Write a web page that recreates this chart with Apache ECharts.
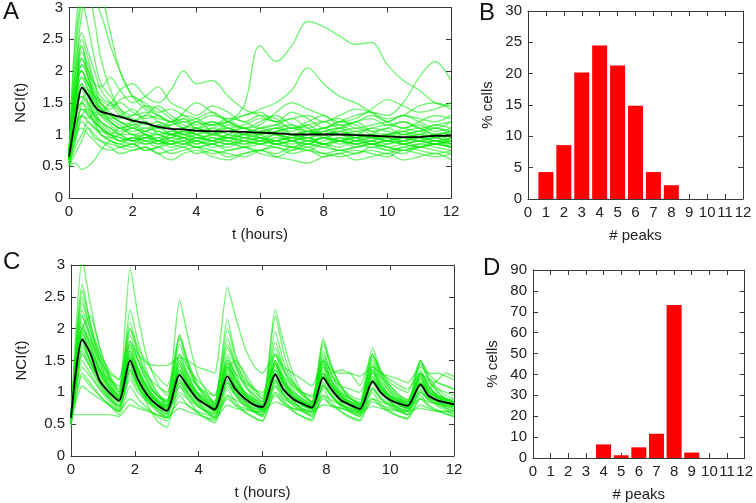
<!DOCTYPE html>
<html>
<head>
<meta charset="utf-8">
<script src="https://cdn.jsdelivr.net/npm/echarts@6/dist/echarts.min.js"></script>
<style>
  html, body { margin: 0; padding: 0; background: #fff; }
  #chart { width: 756px; height: 503px; }
</style>
</head>
<body>
<div id="chart"></div>
<script>
// ---- panel A : NCI traces, random-ish (non-periodic) stimulation ----
var timesA = [0, 0.2, 0.4, 0.6, 0.8, 1.0, 1.3, 1.6, 2.0, 2.4, 2.8, 3.2, 3.6, 4.0, 4.5, 5.0, 5.5, 6.0, 6.5, 7.0, 7.5, 8.0, 8.5, 9.0, 9.5, 10.0, 10.5, 11.0, 11.5, 12]
var meanA = [0.65, 1.25, 1.74, 1.62, 1.45, 1.36, 1.32, 1.28, 1.22, 1.18, 1.12, 1.09, 1.08, 1.06, 1.05, 1.05, 1.04, 1.03, 1.02, 1.0, 1.0, 1.0, 1.0, 0.99, 0.98, 0.97, 0.96, 0.96, 0.98, 0.98]
var tracesA = [
  [0.6, 1.6, 2.4, 1.9, 1.6, 1.5, 1.3, 1.2, 1.1, 1.2, 1.0, 0.95, 1.05, 1.0, 0.9, 1.0, 1.1, 0.95, 0.9, 1.0, 1.05, 0.95, 0.9, 1.0, 0.95, 0.9, 1.0, 0.95, 0.9, 0.95],
  [0.7, 2.2, 3.1, 3.2, 2.8, 2.2, 1.7, 1.4, 1.2, 1.1, 1.15, 1.0, 1.1, 1.2, 1.05, 0.95, 1.0, 1.1, 1.0, 0.9, 1.0, 1.05, 1.1, 0.95, 1.0, 1.1, 1.0, 1.05, 0.95, 1.0],
  [0.55, 1.0, 1.5, 1.7, 1.5, 1.4, 1.2, 1.1, 1.0, 0.9, 0.95, 0.85, 0.9, 0.8, 0.85, 0.9, 0.8, 0.85, 0.9, 0.8, 0.75, 0.85, 0.8, 0.9, 0.85, 0.8, 0.75, 0.85, 0.9, 0.8],
  [0.65, 1.8, 2.0, 1.7, 1.45, 1.3, 1.5, 1.35, 1.2, 1.3, 1.45, 1.3, 1.2, 1.25, 1.35, 1.2, 1.1, 1.2, 1.3, 1.15, 1.1, 1.2, 1.25, 1.1, 1.15, 1.2, 1.3, 1.2, 1.1, 1.2],
  [0.5, 0.55, 0.45, 0.5, 0.6, 0.75, 0.9, 0.8, 0.85, 0.75, 0.8, 0.9, 0.85, 0.8, 0.7, 0.75, 0.8, 0.7, 0.65, 0.75, 0.8, 0.7, 0.75, 0.7, 0.8, 0.75, 0.7, 0.8, 0.75, 0.7],
  [0.6, 2.6, 3.2, 3.2, 3.1, 2.9, 2.4, 2.0, 1.6, 1.4, 1.3, 1.2, 1.25, 1.1, 1.15, 1.2, 1.1, 1.0, 1.1, 1.05, 1.15, 1.0, 1.1, 1.2, 1.05, 1.0, 1.1, 1.15, 1.05, 1.1],
  [0.8, 1.4, 1.6, 1.5, 1.3, 1.1, 1.0, 0.95, 0.9, 1.0, 0.9, 0.85, 0.95, 0.9, 1.0, 0.95, 0.9, 0.85, 0.95, 0.9, 0.8, 0.9, 0.95, 0.85, 0.9, 0.95, 0.85, 0.8, 0.9, 0.85],
  [0.6, 1.2, 2.1, 2.0, 1.8, 1.75, 1.9, 1.7, 1.5, 1.6, 1.75, 1.5, 1.4, 1.3, 1.45, 1.35, 1.2, 1.3, 1.25, 1.1, 1.2, 1.3, 1.15, 1.2, 1.3, 1.2, 1.1, 1.2, 1.3, 1.25],
  [0.55, 0.9, 1.2, 1.1, 0.95, 0.9, 0.85, 0.8, 0.75, 0.8, 0.7, 0.75, 0.8, 0.7, 0.75, 0.65, 0.7, 0.75, 0.7, 0.8, 0.75, 0.7, 0.65, 0.7, 0.75, 0.7, 0.8, 0.75, 0.7, 0.75],
  [0.7, 1.7, 2.2, 1.9, 1.6, 1.4, 1.25, 1.3, 1.4, 1.2, 1.1, 1.2, 1.1, 1.0, 1.05, 1.1, 1.0, 1.1, 1.15, 1.0, 0.95, 1.05, 1.1, 1.0, 0.95, 1.0, 1.05, 0.95, 1.0, 1.05],
  [0.6, 1.3, 1.5, 1.3, 1.2, 1.1, 1.0, 1.1, 1.0, 1.05, 1.1, 1.0, 0.95, 1.0, 1.1, 1.2, 1.45, 2.4, 2.15, 2.4, 2.78, 2.7, 2.55, 2.42, 2.45, 2.1, 1.85, 1.7, 1.5, 1.45],
  [0.6, 1.4, 1.8, 1.6, 1.4, 1.3, 1.2, 1.1, 1.2, 1.3, 1.25, 1.2, 1.1, 1.2, 1.3, 1.25, 1.3, 1.4, 1.5, 1.7, 2.05, 1.8, 1.6, 1.5, 1.35, 1.2, 1.3, 1.25, 1.2, 1.3],
  [0.65, 1.1, 1.4, 1.3, 1.2, 1.0, 0.95, 1.0, 1.1, 1.0, 0.9, 1.0, 1.05, 0.95, 1.0, 1.1, 1.0, 0.95, 1.05, 1.1, 1.0, 1.1, 1.2, 1.3, 1.35, 1.3, 1.5, 1.9, 2.15, 1.85],
  [0.6, 1.5, 2.5, 2.2, 1.8, 1.6, 1.5, 1.7, 1.8, 1.6, 1.5, 1.7, 2.0, 1.8, 1.85, 1.6, 1.4, 1.3, 1.2, 1.35, 1.25, 1.1, 1.2, 1.15, 1.05, 1.1, 1.2, 1.1, 1.0, 1.05],
  [0.5, 0.8, 1.0, 1.2, 1.1, 1.0, 0.9, 0.85, 0.95, 0.9, 0.8, 0.85, 0.8, 0.9, 0.85, 0.8, 0.9, 0.85, 0.8, 0.75, 0.85, 0.8, 0.9, 0.85, 0.8, 0.85, 0.9, 0.8, 0.85, 0.8],
  [0.7, 2.0, 2.6, 2.3, 2.0, 1.7, 1.5, 1.3, 1.25, 1.15, 1.2, 1.1, 1.0, 1.1, 1.0, 0.95, 1.05, 1.0, 0.9, 0.95, 1.05, 1.0, 0.9, 0.95, 1.0, 0.9, 0.95, 1.0, 0.9, 0.95],
  [0.6, 1.1, 1.3, 1.25, 1.35, 1.2, 1.1, 1.0, 0.9, 0.85, 0.9, 1.0, 0.95, 0.85, 0.9, 0.95, 0.85, 0.9, 1.0, 0.9, 0.85, 0.95, 0.9, 0.85, 0.9, 0.8, 0.85, 0.9, 0.85, 0.8],
  [0.65, 1.9, 2.9, 3.1, 3.1, 3.1, 2.6, 2.0, 1.6, 1.5, 1.35, 1.4, 1.3, 1.2, 1.15, 1.25, 1.2, 1.1, 1.15, 1.25, 1.1, 1.0, 1.05, 1.1, 1.0, 0.95, 1.05, 1.0, 1.1, 1.05],
  [0.55, 1.0, 1.1, 1.0, 0.9, 0.8, 0.75, 0.8, 0.85, 0.75, 0.8, 0.7, 0.75, 0.8, 0.75, 0.7, 0.65, 0.75, 0.8, 0.7, 0.75, 0.65, 0.7, 0.75, 0.7, 0.65, 0.75, 0.7, 0.65, 0.7],
  [0.7, 1.5, 1.9, 1.8, 1.6, 1.55, 1.45, 1.5, 1.35, 1.25, 1.3, 1.2, 1.3, 1.25, 1.15, 1.2, 1.3, 1.35, 1.2, 1.25, 1.3, 1.2, 1.3, 1.4, 1.35, 1.25, 1.3, 1.45, 1.5, 1.4],
  [0.6, 1.3, 1.7, 1.5, 1.3, 1.2, 1.05, 1.0, 1.0, 0.95, 1.05, 1.0, 0.95, 1.05, 1.0, 1.05, 0.95, 1.0, 1.05, 1.0, 0.95, 1.0, 1.05, 0.95, 1.0, 0.95, 0.9, 1.0, 0.95, 0.9],
  [0.75, 1.6, 2.3, 2.1, 1.8, 1.5, 1.4, 1.55, 1.6, 1.45, 1.3, 1.2, 1.35, 1.5, 1.35, 1.2, 1.1, 1.15, 1.35, 1.5, 1.4, 1.3, 1.2, 1.25, 1.4, 1.55, 1.45, 1.35, 1.4, 1.5],
  [0.5, 0.7, 0.9, 1.1, 1.0, 0.9, 0.8, 0.7, 0.75, 0.8, 0.7, 0.6, 0.7, 0.75, 0.65, 0.6, 0.7, 0.75, 0.65, 0.6, 0.55, 0.65, 0.7, 0.6, 0.65, 0.7, 0.6, 0.65, 0.7, 0.6],
  [0.6, 1.7, 2.0, 1.8, 1.55, 1.4, 1.3, 1.2, 1.15, 1.05, 1.0, 1.05, 1.1, 1.0, 0.95, 0.9, 1.0, 0.95, 0.85, 0.9, 0.95, 0.85, 0.9, 0.8, 0.85, 0.9, 0.85, 0.8, 0.85, 0.9],
  [0.65, 2.4, 3.1, 2.7, 2.2, 1.8, 1.6, 1.4, 1.3, 1.35, 1.2, 1.15, 1.25, 1.15, 1.2, 1.1, 1.15, 1.25, 1.2, 1.1, 1.15, 1.2, 1.1, 1.2, 1.25, 1.15, 1.2, 1.1, 1.15, 1.2],
  [0.55, 1.2, 1.5, 1.4, 1.15, 1.0, 0.9, 0.85, 0.8, 0.9, 0.85, 0.95, 0.9, 0.8, 0.85, 0.75, 0.8, 0.9, 0.85, 0.8, 0.9, 0.85, 0.75, 0.8, 0.85, 0.75, 0.8, 0.85, 0.8, 0.75],
  [0.7, 1.5, 2.2, 2.0, 1.7, 1.5, 1.35, 1.25, 1.3, 1.45, 1.4, 1.25, 1.15, 1.1, 1.2, 1.1, 1.0, 1.05, 1.1, 1.0, 1.05, 1.1, 1.0, 1.05, 0.95, 1.0, 1.05, 1.1, 1.0, 1.05],
  [0.6, 1.0, 1.3, 1.2, 1.1, 1.05, 1.0, 0.9, 0.95, 1.0, 0.9, 0.95, 1.0, 0.9, 0.85, 0.95, 0.9, 0.85, 0.9, 0.95, 0.9, 0.85, 0.95, 0.9, 0.85, 0.9, 0.95, 0.9, 0.85, 0.9],
  [0.6, 1.5, 1.9, 1.7, 1.45, 1.3, 1.15, 1.05, 1.1, 1.0, 0.95, 1.05, 1.0, 0.95, 0.9, 1.0, 0.95, 0.9, 1.0, 0.95, 0.9, 0.95, 1.0, 0.9, 0.95, 1.0, 0.9, 0.95, 1.0, 0.9],
  [0.55, 1.3, 1.6, 1.45, 1.25, 1.1, 1.0, 0.95, 0.9, 0.95, 1.0, 0.9, 0.85, 0.95, 0.9, 0.85, 0.95, 0.9, 0.85, 0.9, 0.95, 0.85, 0.9, 0.95, 0.85, 0.9, 0.85, 0.9, 0.85, 0.95],
  [0.7, 1.9, 2.4, 2.0, 1.65, 1.45, 1.25, 1.15, 1.05, 1.1, 1.05, 1.0, 1.05, 1.1, 1.0, 1.05, 1.1, 1.0, 1.05, 1.1, 1.05, 1.0, 1.05, 1.0, 1.1, 1.05, 1.0, 1.05, 1.1, 1.0],
  [0.6, 1.1, 1.4, 1.35, 1.2, 1.1, 0.95, 0.9, 0.85, 0.95, 0.9, 0.85, 0.9, 0.95, 0.9, 0.85, 0.9, 0.95, 0.85, 0.9, 0.85, 0.95, 0.9, 0.85, 0.9, 0.85, 0.9, 0.95, 0.9, 0.85],
  [0.65, 1.6, 2.1, 1.9, 1.6, 1.4, 1.3, 1.2, 1.1, 1.05, 1.15, 1.1, 1.0, 1.05, 1.1, 1.0, 0.95, 1.05, 1.0, 0.95, 1.0, 1.05, 1.0, 0.95, 0.9, 1.0, 0.95, 0.9, 0.95, 1.0],
  [0.5, 0.9, 1.3, 1.4, 1.3, 1.15, 1.0, 0.9, 0.95, 0.85, 0.9, 0.8, 0.85, 0.9, 0.8, 0.85, 0.8, 0.75, 0.85, 0.8, 0.85, 0.8, 0.75, 0.8, 0.85, 0.8, 0.75, 0.8, 0.85, 0.8],
  [0.75, 1.7, 2.0, 1.8, 1.5, 1.35, 1.2, 1.1, 1.15, 1.2, 1.1, 1.15, 1.2, 1.1, 1.05, 1.15, 1.1, 1.05, 1.1, 1.15, 1.05, 1.1, 1.15, 1.05, 1.1, 1.15, 1.1, 1.05, 1.15, 1.1],
  [0.6, 1.4, 1.8, 1.6, 1.35, 1.2, 1.1, 1.0, 0.9, 0.95, 0.85, 0.9, 0.95, 0.85, 0.95, 0.9, 0.85, 0.95, 0.9, 0.85, 0.9, 0.95, 0.85, 0.9, 0.95, 0.9, 0.85, 0.9, 0.95, 0.85]
]

// ---- panel C : NCI traces, periodic stimulation ----
// per cycle: peak, +0.25h, +0.55h, +0.85h, trough
var timesC = [0,
  0.35, 0.6, 0.9, 1.2, 1.5,
  1.85, 2.1, 2.4, 2.7, 3.0,
  3.4, 3.65, 3.95, 4.25, 4.5,
  4.9, 5.15, 5.45, 5.75, 6.0,
  6.4, 6.65, 6.95, 7.25, 7.55,
  7.9, 8.15, 8.45, 8.75, 9.05,
  9.45, 9.7, 10.0, 10.3, 10.55,
  10.95, 11.2, 11.5, 11.75, 12]
var meanC = [0.6, 1.83, 1.62, 1.18, 1.0, 0.87, 1.5, 1.2, 0.95, 0.8, 0.71, 1.27, 1.1, 0.9, 0.8, 0.73, 1.25, 1.05, 0.9, 0.8, 0.77, 1.28, 1.05, 0.9, 0.82, 0.76, 1.23, 1.05, 0.88, 0.8, 0.74, 1.17, 1.0, 0.88, 0.82, 0.79, 1.12, 0.95, 0.87, 0.84, 0.81]
var tracesC = [
  [0.55, 3.1, 2.4, 1.7, 1.25, 1.0, 2.95, 2.2, 1.5, 1.15, 0.95, 1.9, 1.5, 1.15, 0.95, 0.85, 2.15, 1.6, 1.25, 1.0, 0.9, 1.8, 1.4, 1.1, 0.95, 0.85, 1.6, 1.3, 1.05, 0.9, 0.8, 1.5, 1.2, 1.0, 0.9, 0.85, 1.3, 1.1, 0.95, 0.9, 0.85],
  [0.65, 2.0, 1.8, 1.5, 1.3, 1.2, 1.8, 1.6, 1.45, 1.42, 1.42, 1.55, 1.5, 1.4, 1.35, 1.3, 2.65, 2.2, 1.7, 1.4, 1.3, 1.6, 1.4, 1.3, 1.2, 1.1, 1.5, 1.35, 1.3, 1.3, 1.25, 1.4, 1.3, 1.25, 1.2, 1.15, 1.4, 1.3, 1.3, 1.25, 1.2],
  [0.5, 2.6, 2.1, 1.6, 1.2, 0.9, 2.0, 1.6, 1.2, 0.95, 0.8, 2.45, 1.9, 1.3, 1.0, 0.8, 1.7, 1.4, 1.1, 0.9, 0.8, 2.3, 1.8, 1.3, 1.0, 0.85, 1.8, 1.4, 1.1, 0.9, 0.8, 1.6, 1.3, 1.05, 0.9, 0.8, 1.5, 1.2, 1.0, 0.9, 0.85],
  [0.65, 0.65, 0.65, 0.65, 0.65, 0.62, 0.8, 0.75, 0.7, 0.65, 0.6, 0.85, 0.8, 0.7, 0.65, 0.6, 0.9, 0.8, 0.75, 0.7, 0.65, 0.95, 0.85, 0.75, 0.7, 0.65, 0.9, 0.8, 0.75, 0.7, 0.65, 0.85, 0.8, 0.75, 0.7, 0.65, 0.8, 0.75, 0.7, 0.7, 0.65],
  [0.6, 1.9, 1.6, 1.3, 1.05, 0.9, 1.5, 1.25, 1.0, 0.85, 0.75, 1.3, 1.1, 0.9, 0.8, 0.72, 1.25, 1.05, 0.9, 0.8, 0.75, 1.3, 1.05, 0.9, 0.8, 0.75, 1.25, 1.05, 0.9, 0.8, 0.72, 1.2, 1.0, 0.88, 0.8, 0.75, 1.1, 0.95, 0.85, 0.8, 0.78],
  [0.55, 1.6, 1.4, 1.15, 0.95, 0.8, 1.3, 1.1, 0.9, 0.75, 0.65, 1.1, 0.95, 0.8, 0.7, 0.62, 1.1, 0.95, 0.8, 0.7, 0.65, 1.15, 0.95, 0.8, 0.72, 0.68, 1.1, 0.95, 0.8, 0.72, 0.66, 1.05, 0.9, 0.8, 0.72, 0.7, 1.0, 0.88, 0.8, 0.75, 0.72],
  [0.65, 2.2, 1.9, 1.5, 1.2, 1.0, 1.8, 1.5, 1.15, 0.95, 0.85, 1.5, 1.25, 1.0, 0.88, 0.8, 1.45, 1.2, 1.0, 0.9, 0.85, 1.5, 1.2, 1.0, 0.9, 0.82, 1.45, 1.2, 1.0, 0.9, 0.82, 1.35, 1.1, 0.95, 0.88, 0.85, 1.25, 1.05, 0.95, 0.9, 0.88],
  [0.5, 1.3, 1.15, 0.95, 0.8, 0.65, 1.1, 0.9, 0.75, 0.62, 0.55, 0.95, 0.8, 0.68, 0.6, 0.55, 0.95, 0.8, 0.68, 0.6, 0.55, 1.0, 0.82, 0.7, 0.62, 0.58, 0.95, 0.8, 0.7, 0.62, 0.57, 0.9, 0.78, 0.68, 0.62, 0.6, 0.9, 0.78, 0.7, 0.66, 0.62],
  [0.6, 2.0, 2.2, 1.7, 1.3, 1.0, 1.6, 1.3, 1.05, 0.9, 0.8, 1.35, 1.15, 0.95, 0.85, 0.78, 1.4, 1.2, 1.0, 0.88, 0.8, 1.35, 1.15, 0.95, 0.85, 0.78, 1.3, 1.1, 0.95, 0.85, 0.78, 1.25, 1.05, 0.92, 0.85, 0.8, 1.15, 1.0, 0.9, 0.85, 0.82],
  [0.7, 1.8, 1.5, 1.2, 1.0, 0.85, 1.7, 1.35, 1.05, 0.85, 0.72, 1.45, 1.2, 0.95, 0.8, 0.7, 1.5, 1.2, 0.95, 0.8, 0.72, 1.6, 1.25, 1.0, 0.85, 0.75, 1.5, 1.2, 0.95, 0.82, 0.72, 1.4, 1.15, 0.95, 0.82, 0.75, 1.35, 1.1, 0.95, 0.85, 0.8],
  [0.55, 1.1, 1.0, 0.9, 0.8, 0.7, 0.9, 0.8, 0.72, 0.65, 0.6, 0.75, 0.7, 0.65, 0.6, 0.58, 0.8, 0.75, 0.72, 0.7, 0.7, 0.85, 0.8, 0.75, 0.72, 0.7, 0.8, 0.78, 0.75, 0.72, 0.7, 0.78, 0.75, 0.72, 0.7, 0.7, 0.75, 0.72, 0.7, 0.7, 0.7],
  [0.6, 2.3, 1.9, 1.45, 1.15, 0.95, 1.9, 1.5, 1.15, 0.95, 0.85, 1.85, 1.45, 1.1, 0.92, 0.82, 2.0, 1.55, 1.15, 0.95, 0.85, 2.2, 1.65, 1.2, 0.98, 0.85, 1.85, 1.45, 1.1, 0.92, 0.82, 1.6, 1.3, 1.05, 0.92, 0.85, 1.5, 1.25, 1.05, 0.95, 0.9],
  [0.5, 1.5, 1.3, 1.05, 0.85, 0.7, 1.4, 1.1, 0.85, 0.7, 0.62, 1.2, 1.0, 0.8, 0.68, 0.6, 1.15, 0.95, 0.78, 0.68, 0.62, 1.2, 0.98, 0.8, 0.7, 0.62, 1.15, 0.95, 0.78, 0.68, 0.62, 1.05, 0.9, 0.78, 0.7, 0.65, 1.0, 0.88, 0.78, 0.72, 0.68],
  [0.65, 2.0, 1.7, 1.35, 1.1, 0.95, 1.55, 1.3, 1.1, 0.95, 0.88, 1.35, 1.15, 1.0, 0.9, 0.82, 1.3, 1.1, 0.95, 0.88, 0.82, 1.35, 1.15, 1.0, 0.9, 0.82, 1.3, 1.1, 0.98, 0.9, 0.85, 1.3, 1.25, 1.1, 0.95, 0.88, 1.15, 1.05, 1.2, 1.3, 1.25],
  [0.6, 2.7, 2.1, 1.5, 1.1, 0.85, 2.3, 1.8, 1.3, 1.0, 0.8, 1.9, 1.5, 1.1, 0.88, 0.75, 1.6, 1.3, 1.0, 0.85, 0.75, 1.7, 1.35, 1.05, 0.88, 0.78, 1.65, 1.3, 1.0, 0.85, 0.75, 1.55, 1.25, 1.0, 0.85, 0.78, 1.45, 1.2, 1.0, 0.88, 0.82],
  [0.55, 1.25, 1.1, 0.95, 0.8, 0.7, 1.25, 1.05, 0.9, 0.8, 0.72, 1.15, 1.0, 0.85, 0.75, 0.68, 1.2, 1.0, 0.85, 0.75, 0.7, 1.1, 0.95, 0.85, 0.75, 0.7, 1.1, 0.95, 0.82, 0.75, 0.68, 1.15, 1.0, 0.85, 0.75, 0.7, 1.05, 0.92, 0.82, 0.78, 0.75],
  [0.6, 2.5, 2.0, 1.55, 1.25, 1.05, 2.1, 1.65, 1.25, 1.0, 0.85, 1.75, 1.4, 1.1, 0.95, 0.85, 1.85, 1.45, 1.1, 0.95, 0.85, 1.95, 1.5, 1.15, 0.95, 0.85, 1.75, 1.4, 1.1, 0.95, 0.88, 1.7, 1.35, 1.1, 0.95, 0.88, 1.3, 1.15, 1.05, 1.0, 0.95],
  [0.45, 1.7, 1.5, 1.2, 0.95, 0.75, 1.45, 1.1, 0.8, 0.55, 0.45, 1.1, 0.9, 0.7, 0.58, 0.52, 1.05, 0.85, 0.7, 0.6, 0.55, 1.1, 0.88, 0.72, 0.62, 0.55, 1.05, 0.85, 0.7, 0.6, 0.55, 1.0, 0.82, 0.7, 0.62, 0.58, 0.95, 0.8, 0.72, 0.66, 0.62],
  [0.65, 1.95, 1.65, 1.35, 1.2, 1.1, 1.75, 1.5, 1.25, 1.1, 1.0, 1.55, 1.3, 1.1, 1.0, 0.95, 1.5, 1.3, 1.15, 1.05, 1.0, 1.45, 1.25, 1.1, 1.0, 0.95, 1.4, 1.25, 1.1, 1.05, 1.0, 1.4, 1.3, 1.2, 1.1, 1.05, 1.3, 1.2, 1.15, 1.1, 1.05],
  [0.55, 2.1, 1.75, 1.35, 1.05, 0.85, 1.65, 1.35, 1.05, 0.85, 0.72, 1.6, 1.3, 1.0, 0.82, 0.7, 1.55, 1.25, 0.98, 0.82, 0.72, 1.45, 1.2, 0.95, 0.8, 0.72, 1.5, 1.2, 0.95, 0.8, 0.7, 1.45, 1.15, 0.92, 0.8, 0.72, 1.3, 1.1, 0.92, 0.82, 0.78],
  [0.6, 1.4, 1.25, 1.05, 0.9, 0.78, 1.2, 1.0, 0.85, 0.75, 0.68, 1.0, 0.9, 0.78, 0.7, 0.65, 0.95, 0.88, 0.8, 0.75, 0.72, 1.0, 0.9, 0.82, 0.78, 0.75, 0.95, 0.88, 0.8, 0.75, 0.72, 0.9, 0.85, 0.8, 0.78, 0.75, 0.9, 0.85, 0.82, 0.8, 0.78],
  [0.65, 2.4, 2.0, 1.6, 1.35, 1.2, 2.0, 1.7, 1.45, 1.25, 1.1, 1.6, 1.4, 1.2, 1.05, 0.95, 1.75, 1.45, 1.2, 1.05, 0.95, 1.6, 1.35, 1.15, 1.0, 0.92, 1.55, 1.3, 1.35, 1.3, 1.1, 1.6, 1.35, 1.15, 1.05, 1.0, 1.5, 1.3, 1.15, 1.1, 1.05],
  [0.5, 1.85, 1.5, 1.15, 0.9, 0.72, 1.55, 1.2, 0.9, 0.72, 0.6, 1.45, 1.15, 0.88, 0.7, 0.6, 1.4, 1.1, 0.85, 0.7, 0.62, 1.5, 1.15, 0.88, 0.72, 0.62, 1.45, 1.1, 0.85, 0.7, 0.62, 1.35, 1.05, 0.85, 0.72, 0.65, 1.25, 1.0, 0.85, 0.75, 0.7],
  [0.6, 1.65, 1.45, 1.2, 1.0, 0.88, 1.35, 1.15, 0.95, 0.85, 0.78, 1.2, 1.05, 0.9, 0.82, 0.75, 1.35, 1.5, 1.3, 1.05, 0.9, 1.2, 1.05, 0.92, 0.85, 0.8, 1.25, 1.05, 0.92, 0.85, 0.8, 1.2, 1.05, 0.95, 0.88, 0.82, 1.15, 1.0, 0.92, 0.88, 0.85],
  [0.6, 1.85, 1.6, 1.25, 1.0, 0.85, 1.55, 1.25, 0.98, 0.82, 0.72, 1.3, 1.1, 0.9, 0.8, 0.72, 1.3, 1.08, 0.9, 0.8, 0.75, 1.3, 1.05, 0.9, 0.82, 0.76, 1.25, 1.05, 0.88, 0.8, 0.74, 1.2, 1.0, 0.88, 0.82, 0.78, 1.15, 0.95, 0.87, 0.84, 0.8],
  [0.55, 1.75, 1.5, 1.2, 0.98, 0.85, 1.45, 1.15, 0.92, 0.78, 0.7, 1.25, 1.05, 0.88, 0.78, 0.7, 1.2, 1.0, 0.86, 0.78, 0.74, 1.25, 1.02, 0.88, 0.8, 0.74, 1.2, 1.0, 0.86, 0.78, 0.72, 1.15, 0.98, 0.86, 0.8, 0.76, 1.1, 0.93, 0.85, 0.82, 0.8],
  [0.65, 2.05, 1.75, 1.35, 1.1, 0.95, 1.65, 1.35, 1.05, 0.88, 0.78, 1.4, 1.2, 0.98, 0.86, 0.78, 1.4, 1.15, 0.95, 0.85, 0.8, 1.45, 1.15, 0.95, 0.86, 0.8, 1.35, 1.12, 0.93, 0.85, 0.78, 1.3, 1.08, 0.93, 0.86, 0.82, 1.22, 1.02, 0.92, 0.88, 0.85],
  [0.6, 1.95, 1.65, 1.3, 1.05, 0.9, 1.6, 1.3, 1.0, 0.85, 0.75, 1.35, 1.15, 0.92, 0.82, 0.75, 1.35, 1.1, 0.92, 0.82, 0.78, 1.4, 1.1, 0.92, 0.84, 0.78, 1.3, 1.1, 0.9, 0.82, 0.76, 1.25, 1.05, 0.9, 0.84, 0.8, 1.2, 1.0, 0.9, 0.86, 0.83],
  [0.5, 1.6, 1.4, 1.1, 0.9, 0.78, 1.35, 1.1, 0.88, 0.75, 0.66, 1.15, 0.98, 0.82, 0.72, 0.66, 1.15, 0.98, 0.82, 0.72, 0.68, 1.18, 0.98, 0.84, 0.74, 0.7, 1.12, 0.95, 0.82, 0.72, 0.68, 1.08, 0.92, 0.82, 0.75, 0.72, 1.02, 0.9, 0.82, 0.78, 0.75],
  [0.6, 2.2, 1.85, 1.4, 1.1, 0.92, 1.75, 1.4, 1.08, 0.88, 0.76, 1.5, 1.25, 0.98, 0.84, 0.76, 1.45, 1.2, 0.96, 0.84, 0.78, 1.5, 1.2, 0.96, 0.85, 0.78, 1.4, 1.15, 0.94, 0.84, 0.76, 1.35, 1.1, 0.92, 0.84, 0.8, 1.28, 1.05, 0.92, 0.86, 0.82]
]

// ---- panels B and D : histograms of number of peaks ----
var peaksCat = [1, 2, 3, 4, 5, 6, 7, 8, 9, 10, 11, 12]
var pctB = [4.3, 8.6, 20.2, 24.5, 21.3, 14.9, 4.3, 2.2, 0, 0, 0, 0]
var pctD = [0, 0, 0, 6.5, 1.3, 5.1, 11.6, 73.3, 2.6, 0, 0, 0]

var FONT = 'Liberation Sans'
var GREEN = 'rgba(10, 235, 10, 0.55)'
var FRAME = '#3a3a3a'

var chart = echarts.init(document.getElementById('chart'), null, { renderer: 'canvas' })

// 一组坐标轴：底/左 带标签，顶/右 只画刻度（gnuplot 风格的边框）
function xAxisPair (grid, interval, name, nameGap) {
  var base = {
    gridIndex: grid,
    type: 'value',
    min: 0,
    max: 12,
    interval: interval,
    splitLine: { show: false },
    axisLine: { show: true, onZero: false, lineStyle: { color: FRAME, width: 1 } },
    axisTick: { show: true, inside: true, length: 5, lineStyle: { color: FRAME } }
  }
  var bottom = Object.assign({}, base, {
    position: 'bottom',
    name: name,
    nameLocation: 'middle',
    nameGap: nameGap,
    nameTextStyle: { fontFamily: FONT, fontSize: 15, color: '#222' },
    axisLabel: { fontFamily: FONT, fontSize: 15, color: '#222', margin: 6 }
  })
  var top = Object.assign({}, base, { position: 'top', axisLabel: { show: false } })
  return [bottom, top]
}

function yAxisPair (grid, max, interval, name, nameGap) {
  var base = {
    gridIndex: grid,
    type: 'value',
    min: 0,
    max: max,
    interval: interval,
    splitLine: { show: false },
    axisLine: { show: true, onZero: false, lineStyle: { color: FRAME, width: 1 } },
    axisTick: { show: true, inside: true, length: 5, lineStyle: { color: FRAME } }
  }
  var left = Object.assign({}, base, {
    position: 'left',
    name: name,
    nameLocation: 'middle',
    nameGap: nameGap,
    nameTextStyle: { fontFamily: FONT, fontSize: 15, color: '#222' },
    axisLabel: { fontFamily: FONT, fontSize: 15, color: '#222', margin: 6 }
  })
  var right = Object.assign({}, base, { position: 'right', axisLabel: { show: false } })
  return [left, right]
}

var xAxes = [].concat(
  xAxisPair(0, 2, 't (hours)', 29),
  xAxisPair(1, 1, '# peaks', 29),
  xAxisPair(2, 2, 't (hours)', 29),
  xAxisPair(3, 1, '# peaks', 29)
)
var yAxes = [].concat(
  yAxisPair(0, 3, 0.5, 'NCI(t)', 41),
  yAxisPair(1, 30, 5, '% cells', 33),
  yAxisPair(2, 3, 0.5, 'NCI(t)', 42),
  yAxisPair(3, 90, 10, '% cells', 33)
)

function pairs (times, vals) {
  return times.map(function (t, i) { return [t, vals[i]] })
}

var series = []
// 绿色单细胞曲线
tracesA.forEach(function (tr) {
  series.push({
    type: 'line', xAxisIndex: 0, yAxisIndex: 0, data: pairs(timesA, tr),
    symbol: 'none', smooth: 0.35, silent: true, clip: true,
    lineStyle: { color: GREEN, width: 1.4 }
  })
})
series.push({
  type: 'line', xAxisIndex: 0, yAxisIndex: 0, data: pairs(timesA, meanA),
  symbol: 'none', smooth: 0.2, silent: true, z: 5,
  lineStyle: { color: '#000', width: 1.8 }
})
tracesC.forEach(function (tr) {
  series.push({
    type: 'line', xAxisIndex: 4, yAxisIndex: 4, data: pairs(timesC, tr),
    symbol: 'none', smooth: 0.2, silent: true, clip: true,
    lineStyle: { color: GREEN, width: 1.4 }
  })
})
series.push({
  type: 'line', xAxisIndex: 4, yAxisIndex: 4, data: pairs(timesC, meanC),
  symbol: 'none', smooth: 0.25, silent: true, z: 5,
  lineStyle: { color: '#000', width: 1.8 }
})
// 柱状图
series.push({
  type: 'bar', xAxisIndex: 2, yAxisIndex: 2, data: pairs(peaksCat, pctB),
  barWidth: 15, itemStyle: { color: '#ff0000' }, silent: true
})
series.push({
  type: 'bar', xAxisIndex: 6, yAxisIndex: 6, data: pairs(peaksCat, pctD),
  barWidth: 15, itemStyle: { color: '#ff0000' }, silent: true
})

function letter (txt, x, y) {
  return {
    type: 'text', left: x, top: y,
    style: { text: txt, font: '24px "Liberation Sans"', fill: '#111' }
  }
}

chart.setOption({
  animation: false,
  backgroundColor: '#fff',
  grid: [
    { left: 69, top: 7, width: 382, height: 191 },
    { left: 528, top: 11, width: 215, height: 188 },
    { left: 71, top: 265, width: 383, height: 191 },
    { left: 533, top: 270, width: 215, height: 189 }
  ],
  xAxis: xAxes,
  yAxis: yAxes,
  series: series,
  graphic: [
    letter('A', 3, 0),
    letter('B', 479, 1),
    letter('C', 3, 250),
    letter('D', 483, 256)
  ]
})
</script>
</body>
</html>
